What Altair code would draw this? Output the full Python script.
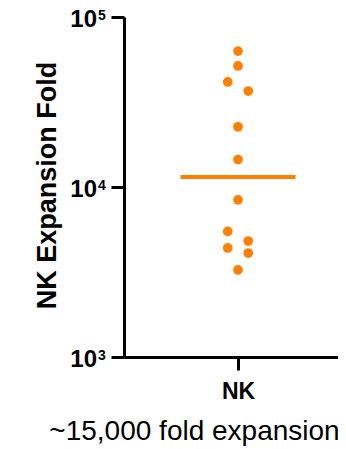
import altair as alt
import pandas as pd

# ---- data ----
group = "NK"
values = [63000, 51500, 41500, 36700, 22600, 14500, 8400, 5480, 4810, 4380, 4090, 3250]
column = [0, 0, -1, 1, 0, 0, 0, -1, 1, -1, 1, 0]   # beeswarm column of each dot
tick_values = [1000, 10000, 100000]
tick_bases = ["10", "10", "10"]
tick_exponents = ["3", "4", "5"]
y_title = "NK Expansion Fold"
caption = "~15,000 fold expansion"

ORANGE = "#ff8000"
FONT = "Liberation Sans"

points_df = pd.DataFrame({"group": [group] * len(values), "value": values, "col": column})
ticks_df = pd.DataFrame({"value": tick_values, "base": tick_bases, "exp": tick_exponents})

x_scale = alt.Scale(domain=[0, 1.877], nice=False, zero=False)
y_scale = alt.Scale(type="log", domain=[1000, 100000], nice=False)

x_axis = alt.Axis(values=[1], labelExpr="'NK'", title=caption,
                  domainColor="black", domainWidth=3, tickColor="black",
                  tickWidth=3, tickSize=13, labelFont=FONT, labelFontSize=23,
                  labelFontWeight="bold", labelColor="black", labelPadding=10,
                  titleFont=FONT, titleFontSize=28, titleFontWeight="normal",
                  titleColor="black", titleX=70, titleY=82, titleAlign="center",
                  titleBaseline="alphabetic", grid=False)
y_axis = alt.Axis(values=tick_values, labels=False, title=y_title,
                  domainColor="black", domainWidth=3, tickColor="black",
                  tickWidth=3, tickSize=13, grid=False,
                  titleFont=FONT, titleFontSize=27, titleFontWeight="bold",
                  titleColor="black", titleAngle=270, titleX=-69, titleY=168,
                  titleAlign="center", titleBaseline="alphabetic")

points = alt.Chart(points_df).transform_calculate(
    pos="1 + datum.col * 0.09"
).mark_circle(size=95, opacity=1, color=ORANGE).encode(
    x=alt.X("pos:Q", scale=x_scale, axis=x_axis),
    y=alt.Y("value:Q", scale=y_scale, axis=y_axis),
)

median = alt.Chart(points_df).transform_aggregate(
    value="median(value)", groupby=["group"]
).transform_calculate(
    pos="1 - 0.504", pos2="1 + 0.504"
).mark_rule(color=ORANGE, strokeWidth=4).encode(
    x=alt.X("pos:Q", scale=x_scale, axis=x_axis),
    x2="pos2:Q",
    y=alt.Y("value:Q", scale=y_scale, axis=y_axis),
)

lab_base = alt.Chart(ticks_df).mark_text(
    align="right", baseline="alphabetic", dy=10, font=FONT, fontSize=24,
    fontWeight="bold", color="black"
).encode(
    x=alt.value(-27),
    y=alt.Y("value:Q", scale=y_scale, axis=y_axis),
    text="base:N",
)

lab_exp = alt.Chart(ticks_df).mark_text(
    align="left", baseline="alphabetic", dy=3, font=FONT, fontSize=14,
    fontWeight="bold", color="black"
).encode(
    x=alt.value(-26),
    y=alt.Y("value:Q", scale=y_scale, axis=y_axis),
    text="exp:N",
)

chart = alt.layer(points, median, lab_base, lab_exp).properties(
    width=214, height=340,
    autosize=alt.AutoSizeParams(type="none"),
    padding={"left": 116, "top": 9, "right": 0, "bottom": 100},
).configure_view(stroke=None)

chart.save("out.html", embed_options={"renderer": "svg", "actions": False})
